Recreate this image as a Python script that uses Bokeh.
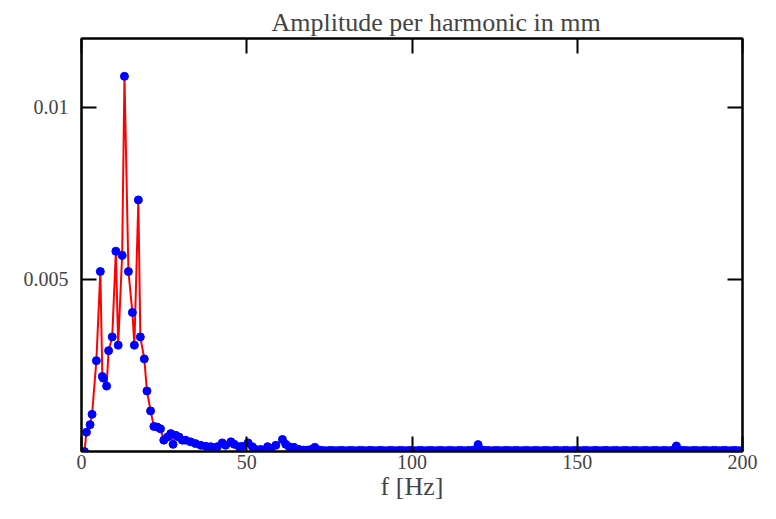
from bokeh.plotting import figure
from bokeh.models import Range1d, LinearAxis, FixedTicker
from bokeh.embed import file_html
from bokeh.resources import INLINE

# ---- data ----
freq_low = [0.9, 1.5, 2.6, 3.2, 4.5, 5.7, 6.3, 6.6, 7.6, 8.2,
            9.3, 10.4, 11.1, 12.3, 13.0, 14.2, 15.4, 16.0, 17.2, 17.8,
            19.0, 19.8, 20.9, 21.9, 22.9, 23.9, 24.9, 26.0, 27.0, 27.7,
            28.5, 29.5, 30.5, 31.5, 33.0, 34.5, 36.1, 37.6, 39.1, 40.1,
            41.1, 42.6, 43.6, 45.2, 46.2, 47.7, 48.7, 50.4, 51.7, 52.7,
            54.2, 56.3, 57.3, 58.8, 60.8, 61.8, 62.8, 64.3, 65.8, 67.1,
            68.4, 69.5, 70.6, 71.9]
amp_low = [0.0, 0.00056, 0.00078, 0.00108, 0.00264, 0.00523, 0.00218, 0.00213, 0.00190, 0.00293,
           0.00333, 0.00582, 0.00309, 0.00570, 0.01090, 0.00523, 0.00404, 0.00309, 0.00731, 0.00333,
           0.00269, 0.00176, 0.00118, 0.00073, 0.00071, 0.00066, 0.00033, 0.00042, 0.00052, 0.00021,
           0.00047, 0.00042, 0.00033, 0.00033, 0.00028, 0.00023, 0.00018, 0.00015, 0.00014, 0.00006,
           0.00014, 0.00025, 0.00018, 0.00028, 0.00021, 0.00014, 0.00015, 0.00025, 0.00014, 0.00006,
           0.00006, 0.00014, 0.00009, 0.00018, 0.00035, 0.00021, 0.00014, 0.00012, 0.00006, 0.00004,
           0.00004, 0.00006, 0.00012, 0.00004]

freq_tail = list(range(73, 201))
amp_tail = [
    0.00003, 0.00002, 0.00003, 0.00003, 0.00002, 0.00003, 0.00003, 0.00002, 0.00003, 0.00003,  # 73-82
    0.00002, 0.00003, 0.00003, 0.00002, 0.00003, 0.00003, 0.00002, 0.00003, 0.00003, 0.00002,  # 83-92
    0.00003, 0.00003, 0.00002, 0.00003, 0.00003, 0.00002, 0.00003, 0.00003, 0.00002, 0.00003,  # 93-102
    0.00003, 0.00002, 0.00003, 0.00003, 0.00002, 0.00003, 0.00003, 0.00002, 0.00003, 0.00003,  # 103-112
    0.00002, 0.00003, 0.00003, 0.00002, 0.00003, 0.00003, 0.00005, 0.00020, 0.00005, 0.00003,  # 113-122
    0.00003, 0.00002, 0.00003, 0.00003, 0.00002, 0.00003, 0.00003, 0.00002, 0.00003, 0.00003,  # 123-132
    0.00002, 0.00003, 0.00003, 0.00002, 0.00003, 0.00003, 0.00002, 0.00003, 0.00003, 0.00002,  # 133-142
    0.00003, 0.00003, 0.00002, 0.00003, 0.00003, 0.00002, 0.00003, 0.00003, 0.00002, 0.00003,  # 143-152
    0.00003, 0.00002, 0.00003, 0.00003, 0.00002, 0.00003, 0.00003, 0.00002, 0.00003, 0.00003,  # 153-162
    0.00002, 0.00003, 0.00003, 0.00002, 0.00003, 0.00003, 0.00002, 0.00003, 0.00003, 0.00002,  # 163-172
    0.00003, 0.00003, 0.00002, 0.00003, 0.00003, 0.00002, 0.00004, 0.00016, 0.00004, 0.00003,  # 173-182
    0.00003, 0.00002, 0.00003, 0.00003, 0.00002, 0.00003, 0.00003, 0.00002, 0.00003, 0.00003,  # 183-192
    0.00002, 0.00003, 0.00003, 0.00002, 0.00003, 0.00003, 0.00002, 0.00003,                    # 193-200
]

x_ticks = [0, 50, 100, 150, 200]
y_ticks = [0.005, 0.01]
y_tick_labels = {0.005: "0.005", 0.01: "0.01"}

freq = freq_low + freq_tail
amp = amp_low + amp_tail

FONT = "Liberation Serif"

p = figure(width=760, height=503, output_backend="svg", toolbar_location=None,
           x_range=Range1d(0, 200), y_range=Range1d(0, 0.012),
           min_border_left=81, min_border_right=18, min_border_top=38, min_border_bottom=50)
p.title.text = "Amplitude per harmonic in mm"
p.title.align = "left"
p.title.offset = 190
p.title.text_font = FONT
p.title.text_font_size = "26px"
p.title.text_font_style = "normal"
p.title.standoff = 3

p.background_fill_color = "white"
p.border_fill_color = "white"
p.outline_line_color = "black"
p.outline_line_width = 2
p.xgrid.visible = False
p.ygrid.visible = False

p.line(freq, amp, line_color="#ff0000", line_width=2)
p.scatter(freq, amp, size=8, fill_color="#0000ff", line_color="#0000ff")

def style(ax, ticks, show_labels, standoff=6):
    ax.ticker = FixedTicker(ticks=ticks)
    ax.axis_line_color = "black"
    ax.axis_line_width = 2
    ax.major_tick_line_width = 2
    ax.major_tick_in = 15
    ax.major_tick_out = 0
    ax.minor_tick_line_color = None
    if show_labels:
        ax.major_label_text_font = FONT
        ax.major_label_text_font_size = "20px"
        ax.major_label_standoff = standoff
    else:
        ax.major_label_text_color = None
        ax.major_label_text_font_size = "1px"
        ax.major_label_standoff = 0

style(p.xaxis[0], x_ticks, True, standoff=3)
style(p.yaxis[0], y_ticks, True, standoff=13)
p.yaxis[0].major_label_overrides = y_tick_labels
p.xaxis[0].axis_label = "f [Hz]"
p.xaxis[0].axis_label_text_font = FONT
p.xaxis[0].axis_label_text_font_size = "26px"
p.xaxis[0].axis_label_text_font_style = "normal"
p.xaxis[0].axis_label_standoff = 0

top = LinearAxis()
style(top, x_ticks, False)
p.add_layout(top, "above")
right = LinearAxis()
style(right, y_ticks, False)
p.add_layout(right, "right")

open("out.html", "w").write(file_html(p, INLINE))
